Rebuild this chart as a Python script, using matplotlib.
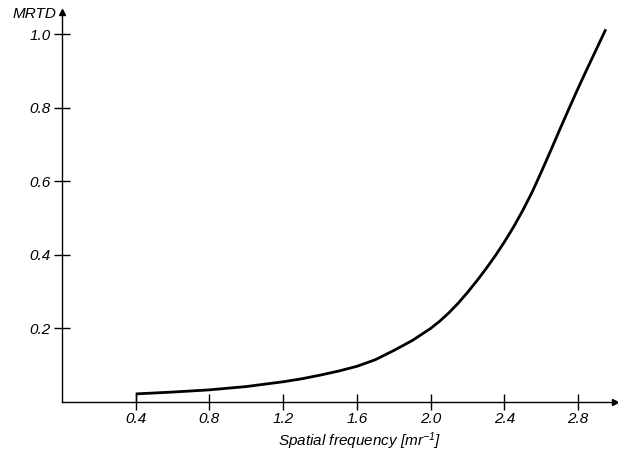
import matplotlib
matplotlib.use("Agg")
import matplotlib.pyplot as plt

# MRTD vs spatial frequency
freq = [0.4, 0.6, 0.8, 1.0, 1.2, 1.3, 1.4, 1.5, 1.6, 1.7, 1.8, 1.9, 2.0,
        2.05, 2.1, 2.15, 2.2, 2.25, 2.3, 2.35, 2.4, 2.45, 2.5, 2.55, 2.6,
        2.65, 2.7, 2.75, 2.8, 2.85, 2.9, 2.95]
mrtd = [0.022, 0.027, 0.033, 0.042, 0.055, 0.063, 0.073, 0.084, 0.097,
        0.115, 0.140, 0.167, 0.200, 0.220, 0.243, 0.269, 0.298, 0.329,
        0.362, 0.397, 0.435, 0.476, 0.521, 0.570, 0.625, 0.682, 0.740,
        0.797, 0.853, 0.907, 0.960, 1.013]

xticks = [0.4, 0.8, 1.2, 1.6, 2.0, 2.4, 2.8]
yticks = [0.2, 0.4, 0.6, 0.8, 1.0]

plt.rcParams['font.family'] = ['Liberation Sans', 'DejaVu Sans']
plt.rcParams['font.style'] = 'italic'
plt.rcParams['mathtext.fontset'] = 'custom'
plt.rcParams['mathtext.it'] = 'Liberation Sans:italic'
plt.rcParams['mathtext.rm'] = 'Liberation Sans:italic'
plt.rcParams['mathtext.default'] = 'it'

fig = plt.figure(figsize=(6.18, 4.53), dpi=100)
ax = fig.add_axes([62 / 618, 51 / 453, 553 / 618, 390 / 453])

ax.plot(freq, mrtd, color='black', linewidth=2.0, solid_capstyle='butt',
        solid_joinstyle='round')
# short vertical drop at the start of the curve
ax.plot([freq[0], freq[0]], [0, mrtd[0]], color='black', linewidth=1.0)

ax.set_xlim(0, 3.0)
ax.set_ylim(0, 1.06)
ax.set_xticks(xticks)
ax.set_yticks(yticks)
ax.set_xticklabels([f"{v:.1f}" for v in xticks])
ax.set_yticklabels([f"{v:.1f}" for v in yticks])

for s in ['top', 'right']:
    ax.spines[s].set_visible(False)
for s in ['left', 'bottom']:
    ax.spines[s].set_linewidth(1.0)

ax.tick_params(axis='both', direction='inout', length=12, width=1.0,
               labelsize=11)
ax.tick_params(axis='x', pad=1)
ax.tick_params(axis='y', pad=2)

# axis arrows
ax.plot(1, 0, '>k', markersize=5, transform=ax.transAxes, clip_on=False)
ax.plot(0, 1, '^k', markersize=5, transform=ax.transAxes, clip_on=False)

ax.text(-0.01, 0.995, "MRTD", transform=ax.transAxes, ha='right',
        va='center', fontsize=11, style='italic')
ax.text(0.539, -0.1, r"Spatial frequency [mr$^{-1}$]", transform=ax.transAxes,
        ha='center', va='center', fontsize=11, style='italic')

fig.savefig("out.png", dpi=100)
